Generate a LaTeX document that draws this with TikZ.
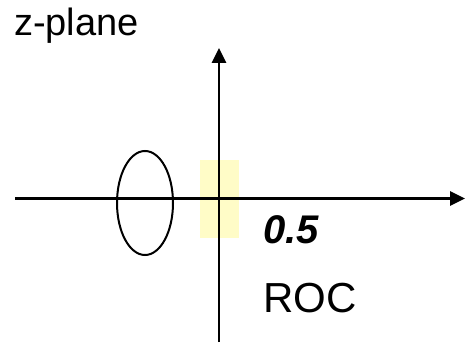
\documentclass[tikz,border=0pt]{standalone}
\usepackage{fontspec}
\setmainfont{Liberation Sans}
\usetikzlibrary{arrows.meta,shapes.geometric}
\begin{document}
\begin{tikzpicture}[x=1pt,y=-1pt,
  axis/.style={line width=2.8pt,-{Triangle[length=15pt,width=14pt]}},
  lbl/.style={anchor=base west,inner sep=0pt,text=black}]
\useasboundingbox (0,0) rectangle (465,347);
\fill[fill=yellow!22] (200,160) rectangle (239,238);
\coordinate (xl) at (15,198.5);
\coordinate (xr) at (465,198.5);
\coordinate (yb) at (219,342);
\coordinate (yt) at (219,48);
\draw[axis] (xl) -- (xr);
\draw[axis] (yb) -- (yt);
\node[ellipse,draw,line width=2pt,minimum width=56pt,minimum height=104pt,inner sep=0pt] (circ) at (145,203) {};
\node[lbl,font=\fontsize{38}{38}\selectfont] (zp) at (14,36) {z-plane};
\node[lbl,font=\fontsize{40}{40}\selectfont\bfseries\itshape] (half) at (263,243) {0.5};
\node[lbl,font=\fontsize{42}{42}\selectfont] (roc) at (263,312) {ROC};
\end{tikzpicture}
\end{document}
